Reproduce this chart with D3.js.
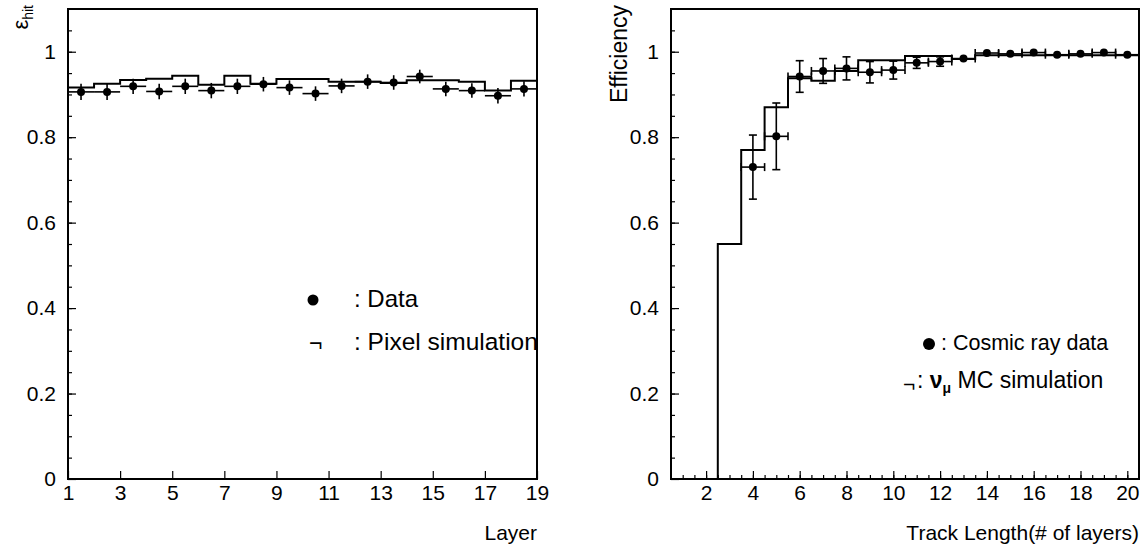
<!DOCTYPE html>
<html>
	<head>
		<script type="text/javascript" src="https://cdn.jsdelivr.net/npm/d3@7"></script>
		<style>
			body { margin: 0; background: #fff; }
			svg text { font-family: "Liberation Sans", Arial, sans-serif; fill: #000; }
		</style>
	</head>
	<body>
		<svg id="viz"></svg>
		<script>
			// Left panel: hit efficiency per layer
			var layerX = [1.5, 2.5, 3.5, 4.5, 5.5, 6.5, 7.5, 8.5, 9.5, 10.5, 11.5, 12.5, 13.5, 14.5, 15.5, 16.5, 17.5, 18.5];
			var layerEff = [0.906, 0.906, 0.919, 0.907, 0.919, 0.909, 0.919, 0.924, 0.916, 0.902, 0.920, 0.930, 0.928, 0.942, 0.913, 0.909, 0.897, 0.913];
			var layerErr = [0.019, 0.019, 0.018, 0.018, 0.018, 0.018, 0.018, 0.017, 0.017, 0.017, 0.017, 0.017, 0.017, 0.016, 0.017, 0.017, 0.018, 0.018];
			var pixelSim = [0.916, 0.925, 0.934, 0.937, 0.944, 0.923, 0.944, 0.925, 0.936, 0.936, 0.930, 0.930, 0.927, 0.933, 0.933, 0.930, 0.909, 0.932];
			var layerTicks = [1, 3, 5, 7, 9, 11, 13, 15, 17, 19];

			// Right panel: efficiency vs track length
			var trackLen = [4, 5, 6, 7, 8, 9, 10, 11, 12, 13, 14, 15, 16, 17, 18, 19, 20];
			var cosmicEff = [0.730, 0.802, 0.942, 0.955, 0.961, 0.952, 0.957, 0.974, 0.977, 0.984, 0.997, 0.995, 0.998, 0.993, 0.995, 0.998, 0.993];
			var cosmicErr = [0.075, 0.078, 0.037, 0.029, 0.027, 0.025, 0.021, 0.013, 0.011, 0.005, 0.004, 0.004, 0.004, 0.004, 0.004, 0.004, 0.004];
			var mcBins = [1, 2, 3, 4, 5, 6, 7, 8, 9, 10, 11, 12, 13, 14, 15, 16, 17, 18, 19, 20];
			var mcEff = [0, 0, 0.55, 0.77, 0.87, 0.938, 0.932, 0.955, 0.98, 0.98, 0.99, 0.99, 0.983, 0.992, 0.992, 0.992, 0.992, 0.992, 0.992, 0.992];
			var trackTicks = [2, 4, 6, 8, 10, 12, 14, 16, 18, 20];

			var effTicks = [0, 0.2, 0.4, 0.6, 0.8, 1];
			var effMinor = [];
			for (var m = 0.05; m < 1.1; m += 0.05) { effMinor.push(+m.toFixed(2)); }
			var trackMinor = [];
			for (var t = 1; t < 20.5; t += 0.5) { trackMinor.push(t); }

			var width = 1144, height = 547;
			var fontSize = 21;
			var svg = d3.select("#viz").attr("width", width).attr("height", height);

			var plotTop = 9, plotBottom = 479;
			var xL = d3.scaleLinear().domain([1, 19]).range([68, 537]);
			var xR = d3.scaleLinear().domain([0.5, 20.5]).range([671, 1139]);
			var y = d3.scaleLinear().domain([0, 1.1]).range([plotBottom, plotTop]);

			function styleAxis(g) {
				g.select(".domain").remove();
				g.selectAll(".tick line").attr("stroke", "#000").attr("stroke-width", 1.2);
				g.selectAll("text").attr("font-size", fontSize).attr("font-family", "Liberation Sans, Arial, sans-serif");
				g.attr("font-size", null).attr("font-family", null);
			}

			function drawFrame(x) {
				var x0 = x.range()[0], x1 = x.range()[1];

				svg.append("g").attr("transform", "translate(" + x0 + ",0)")
					.call(d3.axisLeft(y).tickValues(effMinor).tickSizeInner(-4).tickSizeOuter(0).tickFormat(""))
					.call(styleAxis);
				svg.append("g").attr("transform", "translate(" + x0 + ",0)")
					.call(d3.axisLeft(y).tickValues(effTicks).tickSizeInner(-8).tickSizeOuter(0).tickPadding(12)
						.tickFormat(function(d) { return String(d); }))
					.call(styleAxis);

				svg.append("rect")
					.attr("x", x0).attr("y", plotTop)
					.attr("width", x1 - x0).attr("height", plotBottom - plotTop)
					.attr("fill", "none").attr("stroke", "#000").attr("stroke-width", 2);
			}

			function errorBars(g, x, xs, ys, es, halfW, caps) {
				var pts = xs.map(function(d, i) { return { x: d, v: ys[i], e: es[i] }; });
				var sel = g.selectAll("g.pt").data(pts).enter().append("g").attr("class", "pt");

				sel.append("line")
					.attr("x1", function(d) { return x(d.x - halfW); })
					.attr("x2", function(d) { return x(d.x + halfW); })
					.attr("y1", function(d) { return y(d.v); })
					.attr("y2", function(d) { return y(d.v); })
					.attr("stroke", "#000").attr("stroke-width", 1.6);

				sel.filter(function(d) { return (y(d.v - d.e) - y(d.v)) > 3; })
					.append("line")
					.attr("x1", function(d) { return x(d.x); })
					.attr("x2", function(d) { return x(d.x); })
					.attr("y1", function(d) { return y(d.v - d.e); })
					.attr("y2", function(d) { return y(d.v + d.e); })
					.attr("stroke", "#000").attr("stroke-width", 1.6);

				if (caps) {
					// end caps on both bars
					sel.filter(function(d) { return (y(d.v - d.e) - y(d.v)) > 3; })
						.selectAll("line.cv")
						.data(function(d) { return [d.v - d.e, d.v + d.e].map(function(v) { return { x: d.x, v: v }; }); })
						.enter().append("line").attr("class", "cv")
						.attr("x1", function(d) { return x(d.x) - 4; })
						.attr("x2", function(d) { return x(d.x) + 4; })
						.attr("y1", function(d) { return y(d.v); })
						.attr("y2", function(d) { return y(d.v); })
						.attr("stroke", "#000").attr("stroke-width", 1.6);
					sel.selectAll("line.ch")
						.data(function(d) { return [d.x - halfW, d.x + halfW].map(function(xx) { return { x: xx, v: d.v }; }); })
						.enter().append("line").attr("class", "ch")
						.attr("x1", function(d) { return x(d.x); })
						.attr("x2", function(d) { return x(d.x); })
						.attr("y1", function(d) { return y(d.v) - 4; })
						.attr("y2", function(d) { return y(d.v) + 4; })
						.attr("stroke", "#000").attr("stroke-width", 1.6);
				}

				sel.append("circle")
					.attr("cx", function(d) { return x(d.x); })
					.attr("cy", function(d) { return y(d.v); })
					.attr("r", 4)
					.attr("fill", "#000");
			}

			function stepLine(x, centers, vals) {
				var pts = centers.map(function(c, i) { return [c - 0.5, vals[i]]; });
				pts.push([centers[centers.length - 1] + 0.5, vals[vals.length - 1]]);
				var line = d3.line()
					.x(function(d) { return x(d[0]); })
					.y(function(d) { return y(d[1]); })
					.curve(d3.curveStepAfter);
				svg.append("path").attr("d", line(pts))
					.attr("fill", "none").attr("stroke", "#000").attr("stroke-width", 2);
			}

			// ---- left panel
			svg.append("g").attr("transform", "translate(0," + plotBottom + ")")
				.call(d3.axisBottom(xL).tickValues(layerTicks).tickSizeInner(-8).tickSizeOuter(0).tickPadding(6))
				.call(styleAxis);
			drawFrame(xL);
			stepLine(xL, layerX, pixelSim);
			errorBars(svg.append("g"), xL, layerX, layerEff, layerErr, 0.5, false);

			var yt = svg.append("text")
				.attr("transform", "translate(28,5) rotate(-90)")
				.attr("text-anchor", "end")
				.attr("font-size", fontSize + 1);
			yt.append("tspan").text("ε");
			yt.append("tspan").attr("font-size", 14).attr("dy", 5).text("hit");

			svg.append("text").attr("x", 537).attr("y", 540).attr("text-anchor", "end")
				.attr("font-size", fontSize).text("Layer");

			svg.append("circle").attr("cx", 313).attr("cy", 300).attr("r", 5.5).attr("fill", "#000");
			svg.append("text").attr("x", 354).attr("y", 307).attr("font-size", 24).text(": Data");
			svg.append("text").attr("x", 309).attr("y", 351).attr("font-size", 23).text("¬");
			svg.append("text").attr("x", 354).attr("y", 350).attr("font-size", 24.5).text(": Pixel simulation");

			// ---- right panel
			svg.append("g").attr("transform", "translate(0," + plotBottom + ")")
				.call(d3.axisBottom(xR).tickValues(trackMinor).tickSizeInner(-4).tickSizeOuter(0).tickFormat(""))
				.call(styleAxis);
			svg.append("g").attr("transform", "translate(0," + plotBottom + ")")
				.call(d3.axisBottom(xR).tickValues(trackTicks).tickSizeInner(-8).tickSizeOuter(0).tickPadding(6))
				.call(styleAxis);
			drawFrame(xR);
			stepLine(xR, mcBins, mcEff);
			errorBars(svg.append("g"), xR, trackLen, cosmicEff, cosmicErr, 0.5, true);

			svg.append("text")
				.attr("transform", "translate(627,5) rotate(-90)")
				.attr("text-anchor", "end")
				.attr("font-size", 23)
				.text("Efficiency");

			svg.append("text").attr("x", 1139).attr("y", 540).attr("text-anchor", "end")
				.attr("font-size", fontSize).text("Track Length(# of layers)");

			svg.append("circle").attr("cx", 929).attr("cy", 344).attr("r", 6).attr("fill", "#000");
			svg.append("text").attr("x", 941).attr("y", 350).attr("font-size", 21.5).text(": Cosmic ray data");
			svg.append("text").attr("x", 903).attr("y", 391).attr("font-size", 21).text("¬");
			var mc = svg.append("text").attr("x", 917).attr("y", 388).attr("font-size", 23);
			mc.append("tspan").text(": ");
			mc.append("tspan").attr("font-weight", "bold").text("ν");
			mc.append("tspan").attr("font-weight", "bold").attr("font-size", 14).attr("dy", 5).text("μ");
			mc.append("tspan").attr("dy", -5).text(" MC simulation");
		</script>
	</body>
</html>
